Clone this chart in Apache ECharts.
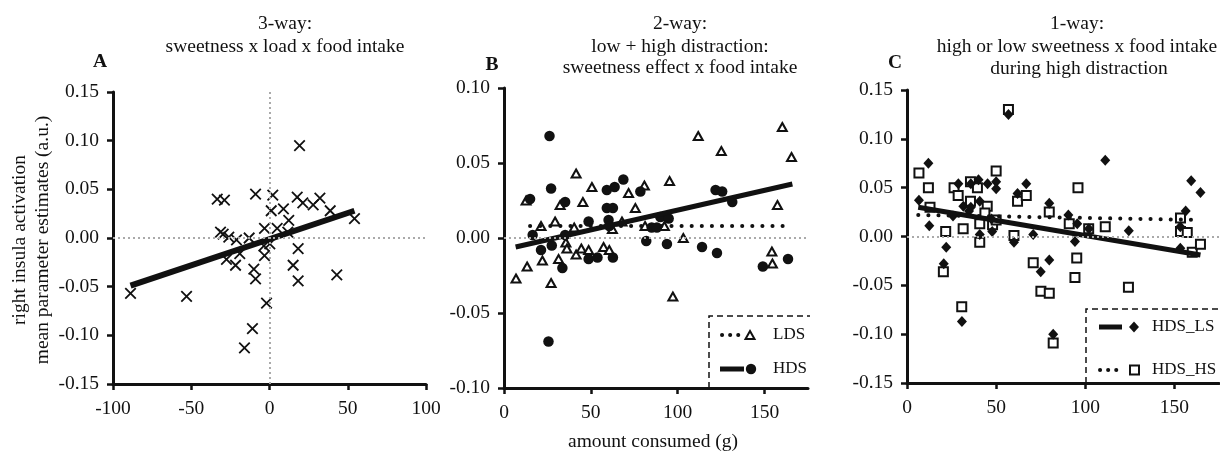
<!DOCTYPE html>
<html>
<head>
<meta charset="utf-8">
<script src="https://cdn.jsdelivr.net/npm/echarts@6/dist/echarts.min.js"></script>
<style>
  html, body { margin: 0; padding: 0; background: #fff; }
  #chart { width: 1220px; height: 453px; }
</style>
</head>
<body>
<div id="chart"></div>
<script>
// panel A: 3-way, amount (centred) vs estimate
var pointsA = [[19.2,0.095],[-33.4,0.040],[-28.8,0.039],[-8.9,0.045],[2.1,0.044],[17.7,0.042],[21.3,0.036],
  [27.9,0.034],[32.2,0.041],[38.8,0.028],[54.3,0.020],[1.1,0.028],[8.9,0.030],[12.3,0.018],[-3.2,0.010],
  [4.9,0.010],[11.7,0.006],[-31.3,0.006],[-29.6,0.004],[-26,0.001],[-21.1,-0.002],[-13,0.000],[-3.6,-0.008],
  [0.2,-0.006],[-19,-0.016],[-27.5,-0.022],[-21.7,-0.028],[-3.2,-0.018],[18.3,-0.011],[15.1,-0.028],
  [18.3,-0.044],[43,-0.038],[-10,-0.032],[-8.9,-0.042],[-88.8,-0.057],[-53,-0.060],[-1.9,-0.067],
  [-10.9,-0.093],[-16,-0.113]]
var fitA = [[-88.8,-0.049],[54.3,0.028]]

// panel B: low (LDS) and high (HDS) distraction
var pointsLDS = [[6.9,-0.027],[12.7,0.025],[13.3,-0.019],[21.3,0.008],[22.1,-0.015],[27.1,-0.030],[29.4,0.011],
  [31.4,-0.014],[32.3,0.022],[35.6,-0.003],[36.2,-0.007],[40.4,0.007],[41.5,0.043],[41.5,-0.011],[44.5,-0.007],
  [45.4,0.024],[48.7,-0.008],[50.6,0.034],[57.3,-0.006],[60.6,-0.008],[62.4,0.006],[67.9,0.011],[71.7,0.030],
  [75.6,0.020],[80.8,0.035],[81.2,0.008],[92.3,0.008],[95.3,0.038],[97.2,-0.039],[103.2,0.000],[111.8,0.068],
  [125.1,0.058],[154.2,-0.009],[154.5,-0.017],[157.4,0.022],[160.2,0.074],[165.5,0.054]]
var pointsHDS = [[15,0.026],[16.5,0.002],[21.3,-0.008],[25.6,-0.069],[26.2,0.068],[27.1,0.033],[27.5,-0.005],
  [33.6,-0.020],[35.2,0.024],[35.2,0.002],[48.7,0.011],[48.7,-0.014],[53.8,-0.013],[59.2,0.032],[59.2,0.020],
  [60.2,0.012],[60.6,0.008],[62.7,0.020],[62.7,-0.013],[63.7,0.034],[68.7,0.039],[78.5,0.031],[81.9,-0.002],
  [85,0.007],[88,0.007],[90,0.014],[94.8,0.013],[93.8,-0.004],[114,-0.006],[121.8,0.032],[125.6,0.031],
  [131.4,0.024],[122.6,-0.010],[149,-0.019],[163.5,-0.014]]
var fitLDS = [[15,0.008],[163,0.008]]
var fitHDS = [[6.7,-0.006],[166,0.036]]

// panel C: high distraction, low (LS) and high (HS) sweetness
var pointsHDS_LS = [[6.7,0.037],[12,0.075],[12.5,0.011],[20.6,-0.028],[22,-0.011],[25.8,0.021],[28.8,0.054],
  [30.8,-0.087],[31.6,0.031],[34.8,0.026],[35.8,0.054],[35.8,0.030],[40.1,0.058],[40.8,0.036],[40.8,0.002],
  [45.2,0.054],[47.4,0.018],[47.8,0.005],[50,0.056],[50,0.049],[56.9,0.125],[60,-0.006],[62,0.044],
  [66.9,0.054],[70.8,0.002],[75,-0.036],[79.8,0.034],[79.8,-0.024],[82,-0.100],[90.5,0.022],[94.2,-0.005],
  [95.5,0.013],[102,0.008],[111.2,0.078],[124.4,0.006],[153.3,-0.012],[153.3,0.010],[156.3,0.026],
  [159.4,0.057],[164.6,0.045]]
var pointsHDS_HS = [[56.9,0.130],[6.7,0.065],[12,0.050],[12.9,0.030],[26.4,0.050],[28.7,0.042],[35.6,0.056],
  [39.5,0.050],[50,0.067],[35.6,0.036],[45,0.031],[43.7,0.024],[40.8,0.013],[48,0.012],[50,0.017],[62,0.036],
  [66.9,0.042],[79.8,0.025],[21.7,0.005],[31.5,0.008],[40.8,-0.006],[60,0.001],[20.4,-0.036],[30.7,-0.072],
  [70.8,-0.027],[75.1,-0.056],[79.8,-0.058],[82,-0.109],[95.9,0.050],[91,0.013],[101.9,0.008],[111.2,0.010],
  [95.2,-0.022],[94.2,-0.042],[124.2,-0.052],[153.4,0.019],[153.4,0.005],[157.2,0.004],[160,-0.016],[164.6,-0.008]]
var fitHDS_LS = [[6.3,0.030],[164.6,-0.019]]
var fitHDS_HS = [[6.3,0.022],[163,0.017]]

var xTicksA = [-100, -50, 0, 50, 100]
var xTicksBC = [0, 50, 100, 150]

var font = 'Liberation Serif'
var ink = '#111'

function axisBase() {
  return {
    type: 'value',
    axisLine: { onZero: false, lineStyle: { color: ink, width: 3 } },
    axisTick: { length: 6, lineStyle: { color: ink, width: 2.5 } },
    splitLine: { show: false },
    axisLabel: { color: ink, fontFamily: font, fontSize: 19.5, margin: 14 }
  }
}
function xAxisOf(grid, min, max, ticks) {
  var a = axisBase()
  a.gridIndex = grid
  a.min = min
  a.max = max
  a.interval = 50
  a.axisTick.customValues = ticks
  a.axisLabel.customValues = ticks
  a.axisLabel.margin = 15
  return a
}
function yAxisOf(grid, min, max) {
  var a = axisBase()
  a.gridIndex = grid
  a.min = min
  a.max = max
  a.interval = 0.05
  a.axisLabel.formatter = function (v) { return (Math.abs(v) < 1e-9 ? 0 : v).toFixed(2) }
  return a
}
var zeroLine = {
  silent: true, symbol: 'none', label: { show: false },
  lineStyle: { color: '#aaa', type: [2, 3], width: 2 }
}
function fitLine(x, y, data, dotted, w) {
  return {
    type: 'line', xAxisIndex: x, yAxisIndex: y, data: data, symbol: 'none', z: 4,
    lineStyle: dotted ? { color: ink, width: 4, type: [0.1, 10], cap: 'round' } : { color: ink, width: w || 5 }
  }
}
var txt = function (text, x, y, extra) {
  var s = { text: text, x: x, y: y, fill: ink, font: '19.5px "' + font + '"', align: 'center', verticalAlign: 'middle' }
  for (var k in extra) s[k] = extra[k]
  return { type: 'text', style: s }
}
var legendFont = '17px "' + font + '"'
var boldFont = 'bold 19.5px "' + font + '"'

var chart = echarts.init(document.getElementById('chart'))
chart.setOption({
  animation: false,
  grid: [
    { left: 113, top: 92, width: 313, height: 292 },
    { left: 504, top: 88, width: 304, height: 300 },
    { left: 907, top: 90, width: 312, height: 293 }
  ],
  xAxis: [xAxisOf(0, -100, 100, xTicksA), xAxisOf(1, 0, 175, xTicksBC), xAxisOf(2, 0, 175, xTicksBC)],
  yAxis: [yAxisOf(0, -0.15, 0.15), yAxisOf(1, -0.10, 0.10), yAxisOf(2, -0.15, 0.15)],
  series: [
    {
      type: 'scatter', xAxisIndex: 0, yAxisIndex: 0, data: pointsA, z: 3,
      symbol: 'path://M0,0L10,10M10,0L0,10', symbolSize: 10.5,
      itemStyle: { color: 'none', borderColor: ink, borderWidth: 1.8, opacity: 1 },
      markLine: Object.assign({ data: [{ yAxis: 0 }, { xAxis: 0 }] }, zeroLine)
    },
    fitLine(0, 0, fitA, false, 6),
    {
      type: 'scatter', xAxisIndex: 1, yAxisIndex: 1, data: pointsLDS, z: 3,
      symbol: 'triangle', symbolSize: [9, 8],
      itemStyle: { color: '#fff', borderColor: ink, borderWidth: 2, opacity: 1 },
      markLine: Object.assign({ data: [{ yAxis: 0 }] }, zeroLine)
    },
    {
      type: 'scatter', xAxisIndex: 1, yAxisIndex: 1, data: pointsHDS, z: 3,
      symbol: 'circle', symbolSize: 10.5, itemStyle: { color: ink, opacity: 1 }
    },
    fitLine(1, 1, fitLDS, true),
    fitLine(1, 1, fitHDS, false, 5),
    {
      type: 'scatter', xAxisIndex: 2, yAxisIndex: 2, data: pointsHDS_HS, z: 3,
      symbol: 'rect', symbolSize: 9,
      itemStyle: { color: '#fff', borderColor: ink, borderWidth: 2, opacity: 1 },
      markLine: Object.assign({ data: [{ yAxis: 0 }] }, zeroLine)
    },
    {
      type: 'scatter', xAxisIndex: 2, yAxisIndex: 2, data: pointsHDS_LS, z: 3,
      symbol: 'diamond', symbolSize: [10, 11], itemStyle: { color: ink, opacity: 1 }
    },
    fitLine(2, 2, fitHDS_LS, false, 5),
    fitLine(2, 2, fitHDS_HS, true)
  ],
  graphic: [
    // titles
    txt('3-way:', 285, 24), txt('sweetness x load x food intake', 285, 47),
    txt('A', 100, 62, { font: boldFont }),
    txt('2-way:', 680, 24), txt('low + high distraction:', 680, 47), txt('sweetness effect x food intake', 680, 68),
    txt('B', 492, 65, { font: boldFont }),
    txt('1-way:', 1077, 24), txt('high or low sweetness x food intake', 1077, 47), txt('during high distraction', 1079, 69),
    txt('C', 895, 63, { font: boldFont }),
    // axis names
    { type: 'text', x: 31, y: 240, rotation: Math.PI / 2,
      style: { text: 'right insula activation\nmean parameter estimates (a.u.)', fill: ink, font: '19.5px "' + font + '"',
        align: 'center', verticalAlign: 'middle', lineHeight: 23 } },
    txt('amount consumed (g)', 653, 442),
    // legend B
    { type: 'polyline', shape: { points: [[709, 388], [709, 316], [810, 316]] },
      style: { stroke: ink, lineWidth: 1.5, lineDash: [6, 4], fill: null } },
    { type: 'line', shape: { x1: 722, y1: 335, x2: 740, y2: 335 },
      style: { stroke: ink, lineWidth: 4, lineDash: [0.1, 8], lineCap: 'round' } },
    { type: 'polygon', shape: { points: [[750, 331], [754.5, 339], [745.5, 339]] },
      style: { fill: '#fff', stroke: ink, lineWidth: 2 } },
    txt('LDS', 773, 335, { align: 'left', font: legendFont }),
    { type: 'line', shape: { x1: 720, y1: 369, x2: 744, y2: 369 }, style: { stroke: ink, lineWidth: 5 } },
    { type: 'circle', shape: { cx: 751, cy: 369, r: 5.2 }, style: { fill: ink } },
    txt('HDS', 773, 369, { align: 'left', font: legendFont }),
    // legend C
    { type: 'polyline', shape: { points: [[1086, 383], [1086, 309], [1220, 309]] },
      style: { stroke: ink, lineWidth: 1.5, lineDash: [6, 4], fill: null } },
    { type: 'line', shape: { x1: 1099, y1: 327, x2: 1122, y2: 327 }, style: { stroke: ink, lineWidth: 5 } },
    { type: 'polygon', shape: { points: [[1134, 321.5], [1139, 327], [1134, 332.5], [1129, 327]] }, style: { fill: ink } },
    txt('HDS_LS', 1152, 327, { align: 'left', font: legendFont }),
    { type: 'line', shape: { x1: 1100, y1: 370, x2: 1124, y2: 370 },
      style: { stroke: ink, lineWidth: 4, lineDash: [0.1, 8], lineCap: 'round' } },
    { type: 'rect', shape: { x: 1130, y: 365.5, width: 9, height: 9 }, style: { fill: '#fff', stroke: ink, lineWidth: 2 } },
    txt('HDS_HS', 1152, 370, { align: 'left', font: legendFont })
  ]
})
</script>
</body>
</html>
